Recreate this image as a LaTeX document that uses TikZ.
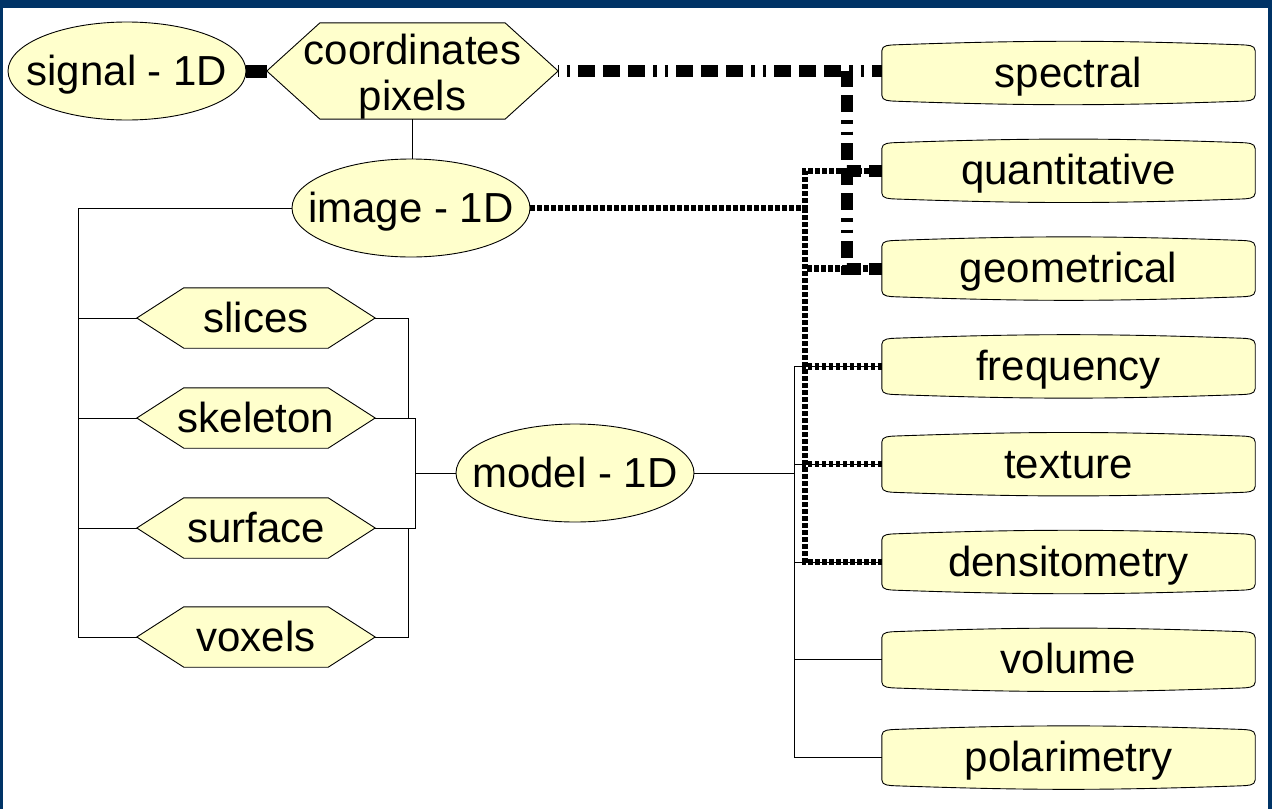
\documentclass[tikz,border=0pt]{standalone}
\usepackage{fontspec}
\setmainfont{Liberation Sans}
\usetikzlibrary{shapes.geometric, positioning, calc, backgrounds}

\definecolor{frameblue}{RGB}{0,51,102}
\definecolor{paleyellow}{RGB}{255,255,204}

\newcommand{\ctrtext}[1]{\makebox[0pt]{#1}}

\begin{document}
\begin{tikzpicture}[
    x=1pt, y=1pt,
    node distance=41.4pt and 40pt,
    txt/.style={font=\fontsize{42}{46}\selectfont, inner sep=0pt, align=center},
    oneline/.style={txt, text height=31pt, text depth=3pt},
    ell/.style={oneline, ellipse, draw, line width=0.9pt, fill=paleyellow, minimum width=238pt, minimum height=98pt},
    hexa/.style={oneline, minimum width=238pt, minimum height=60pt},
    rbox/.style={oneline, minimum width=373pt, minimum height=56pt},
    outline/.style={draw, line width=0.9pt, fill=paleyellow},
    tree/.style={draw, line width=1pt},
    heavy/.style={line width=12pt, dash pattern=on 17pt off 8pt on 17pt off 8pt on 17pt off 8pt on 3.5pt off 8pt on 3.5pt off 8pt},
    dots/.style={line width=6.5pt, dash pattern=on 4.5pt off 2.5pt}
]
\useasboundingbox (0,0) rectangle (1272,-809);

% frame
\fill[frameblue] (0,0) rectangle (1272,-8);
\fill[frameblue] (0,0) rectangle (3,-809);
\fill[frameblue] (1268,0) rectangle (1272,-809);

% top row
\node[ell] (signal) at (127,-71) {\ctrtext{signal - 1D}};
\node[txt, minimum width=291pt, minimum height=90pt] (coord) at (412.5,-71) {\rule{0pt}{41pt}coordinates\\pixels};

% image and model
\node[ell] (image) at (411,-208) {\ctrtext{image - 1D}};
\node[ell] (model) at (575,-473) {\ctrtext{model - 1D}};

% left hexagons
\node[hexa] (slices) at (256,-318) {slices};
\node[hexa] (skeleton) at (256,-418) {skeleton};
\node[hexa] (surface) at (256,-528) {surface};
\node[hexa] (voxels) at (256,-637) {voxels};

% right boxes
\node[rbox] (spectral) at (1068.5,-73) {spectral};
\node[rbox, below=of spectral] (quant) {quantitative};
\node[rbox, below=of quant] (geom) {geometrical};
\node[rbox, below=of geom] (freq) {frequency};
\node[rbox, below=of freq] (texture) {texture};
\node[rbox, below=of texture] (densito) {densitometry};
\node[rbox, below=of densito] (volume) {volume};
\node[rbox, below=of volume] (polar) {polarimetry};

% shapes behind the texts
\begin{scope}[on background layer]
  \foreach \h/\d in {coord/53, slices/47, skeleton/47, surface/47, voxels/47}
    \draw[outline] (\h.west) -- ([xshift=\d pt]\h.north west) -- ([xshift=-\d pt]\h.north east)
      -- (\h.east) -- ([xshift=-\d pt]\h.south east) -- ([xshift=\d pt]\h.south west) -- cycle;
  \foreach \b in {spectral, quant, geom, freq, texture, densito, volume, polar}
    \draw[outline] ([yshift=6pt]\b.south west) -- ([yshift=-6pt]\b.north west)
      to[out=90, in=183] ([xshift=14pt]\b.north west)
      to[bend left=2] ([xshift=-14pt]\b.north east)
      to[out=-3, in=90] ([yshift=-6pt]\b.north east)
      -- ([yshift=6pt]\b.south east)
      to[out=-90, in=3] ([xshift=-14pt]\b.south east)
      to[bend left=2] ([xshift=14pt]\b.south west)
      to[out=177, in=-90] cycle;
\end{scope}

% joints
\coordinate (lbus) at (78,-208);
\coordinate (rbusA) at (408,0);
\coordinate (rbusB) at (415,0);
\coordinate (mbus) at (794,-473);
\coordinate (djoint) at (805,-208);
\coordinate (hjoint) at (847,-71);

% thin tree lines
\draw[tree] (coord.south) -- (coord.south |- image.north);
\draw[tree] (image.west) -- (lbus) |- (voxels.west);
\draw[tree] (lbus |- slices.west) -- (slices.west);
\draw[tree] (lbus |- skeleton.west) -- (skeleton.west);
\draw[tree] (lbus |- surface.west) -- (surface.west);
\draw[tree] (slices.east) -| (rbusA |- skeleton.east) -- (skeleton.east);
\draw[tree] (skeleton.east) -| (rbusB |- surface.east) -- (surface.east);
\draw[tree] (surface.east) -| (rbusA |- voxels.east) -- (voxels.east);
\draw[tree] (rbusB |- model.west) -- (model.west);
\draw[tree] (model.east) -- (mbus);
\draw[tree] (mbus |- freq.west) -- (mbus |- polar.west);
\draw[tree] (mbus |- freq.west) -- (freq.west);
\draw[tree] (mbus |- texture.west) -- (texture.west);
\draw[tree] (mbus |- densito.west) -- (densito.west);
\draw[tree] (mbus |- volume.west) -- (volume.west);
\draw[tree] (mbus |- polar.west) -- (polar.west);

% dotted links from image
\draw[dots] (image.east) -- (djoint) |- (quant.west);
\draw[dots] (djoint) |- (geom.west);
\draw[dots] (djoint) |- (freq.west);
\draw[dots] (djoint) |- (texture.west);
\draw[dots] (djoint) |- (densito.west);

% heavy links from coordinates
\draw[line width=13pt] (signal.east) -- (coord.west);
\draw[heavy, dash phase=78pt] (coord.east) -- (coord.east -| spectral.west);
\draw[heavy, dash phase=26pt] (hjoint) |- (quant.west);
\draw[heavy, dash phase=26pt] (hjoint) |- (geom.west);

\end{tikzpicture}
\end{document}
